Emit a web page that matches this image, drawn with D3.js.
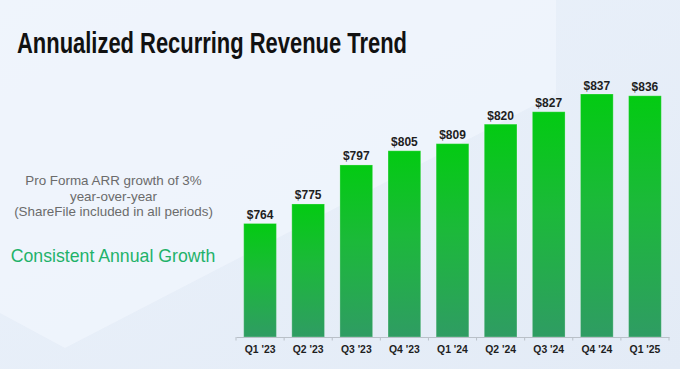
<!DOCTYPE html>
<html><head><meta charset="utf-8">
<script src="https://cdn.jsdelivr.net/npm/d3@7"></script>
<style>html,body{margin:0;padding:0;background:#e7eef8;}svg{display:block;}</style>
</head><body>
<script>
const categories = ["Q1 '23","Q2 '23","Q3 '23","Q4 '23","Q1 '24","Q2 '24","Q3 '24","Q4 '24","Q1 '25"];
const values = [764, 775, 797, 805, 809, 820, 827, 837, 836];
const labels = ["$764","$775","$797","$805","$809","$820","$827","$837","$836"];
const title = "Annualized Recurring Revenue Trend";
const noteLines = ["Pro Forma ARR growth of 3%","year-over-year","(ShareFile included in all periods)"];
const highlight = "Consistent Annual Growth";

const W = 680, H = 369;
const svg = d3.select("body").append("svg").attr("width", W).attr("height", H);
const defs = svg.append("defs");

const bg = defs.append("linearGradient").attr("id","bg").attr("x1",0).attr("y1",0).attr("x2",1).attr("y2",1);
bg.append("stop").attr("offset","0%").attr("stop-color","#ebf2fb");
bg.append("stop").attr("offset","100%").attr("stop-color","#e3ebf6");
svg.append("rect").attr("width",W).attr("height",H).attr("fill","url(#bg)");
svg.append("path").attr("d","M0,0 L556,0 L556,94 L65,348 L0,313 Z").attr("fill","#f0f5fc").attr("opacity",0.8);

const g = defs.append("linearGradient").attr("id","barg").attr("x1",0).attr("y1",0).attr("x2",0).attr("y2",1);
g.append("stop").attr("offset","0%").attr("stop-color","#03cb12");
g.append("stop").attr("offset","45%").attr("stop-color","#1cb93a");
g.append("stop").attr("offset","100%").attr("stop-color","#2f9c63");

// Title
svg.append("text").attr("x",17).attr("y",52.5).text(title)
  .attr("font-family","'Liberation Sans', Arial, sans-serif").attr("font-weight","bold")
  .attr("font-size",30).attr("fill","#111")
  .attr("textLength",390).attr("lengthAdjust","spacingAndGlyphs");

// Left notes
const note = svg.append("text").attr("text-anchor","middle")
  .attr("font-family","'Liberation Sans', Arial, sans-serif").attr("font-size",13.4).attr("fill","#6b6b6b");
noteLines.forEach((t,i)=>note.append("tspan").attr("x",113.5).attr("y",185 + i*15.6).text(t));
svg.append("text").attr("x",113).attr("y",262).attr("text-anchor","middle")
  .attr("font-family","'Liberation Sans', Arial, sans-serif").attr("font-size",17.7).attr("fill","#1fb26a")
  .text(highlight);

// Scales
const x = d3.scaleBand().domain(categories).range([236, 669]).paddingInner(0.32).paddingOuter(0.16);
const y = d3.scaleLinear().domain([700, 837]).range([337, 94]);

const chart = svg.append("g");
chart.selectAll("rect.bar").data(values).join("rect").attr("class","bar")
  .attr("x",(d,i)=>x(categories[i])).attr("width",x.bandwidth())
  .attr("y",d=>y(d)).attr("height",d=>y(700)-y(d))
  .attr("fill","url(#barg)").attr("stroke","rgba(255,255,255,0.25)").attr("stroke-width",1);

chart.selectAll("text.val").data(values).join("text").attr("class","val")
  .attr("x",(d,i)=>x(categories[i])+x.bandwidth()/2).attr("y",d=>y(d)-4.5)
  .attr("text-anchor","middle").attr("font-family","'Liberation Sans', Arial, sans-serif")
  .attr("font-weight","bold").attr("font-size",12).attr("fill","#1e1e1e")
  .text((d,i)=>labels[i]);

// Axis
const axis = svg.append("g").attr("transform",`translate(0,${y(700)})`)
  .call(d3.axisBottom(x).tickSize(0).tickPadding(9));
axis.select(".domain").attr("stroke","#b9c0c8").attr("stroke-width",1);
axis.selectAll("text").attr("font-family","'Liberation Sans', Arial, sans-serif")
  .attr("font-weight","bold").attr("font-size",10.4).attr("fill","#1e1e1e");
const bounds = d3.range(categories.length+1).map(i=>x.range()[0] + i*x.step());
axis.selectAll("line.bt").data(bounds).join("line").attr("class","bt")
  .attr("x1",d=>d).attr("x2",d=>d).attr("y1",0).attr("y2",3.5)
  .attr("stroke","#b9c0c8").attr("stroke-width",1);
</script>
</body></html>
